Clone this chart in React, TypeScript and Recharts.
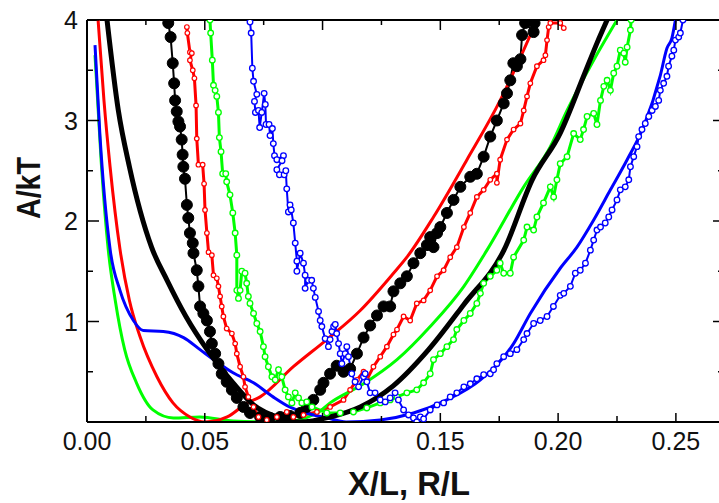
import { LineChart, Line, XAxis, YAxis, ReferenceLine } from "recharts";

type Pt = [number, number];

// smooth model curves
const blueCurve: Pt[] = [
  [0.0034, 3.75], [0.0055, 2.85], [0.0098, 1.72], [0.014, 1.31], [0.0197, 1.01], [0.0239, 0.91],
  [0.0324, 0.9], [0.041, 0.84], [0.048, 0.72], [0.055, 0.6], [0.062, 0.49], [0.0707, 0.39],
  [0.079, 0.25], [0.086, 0.15], [0.093, 0.09], [0.102, 0.04], [0.11, 0.0], [0.1245, 0.02],
  [0.1386, 0.09], [0.1528, 0.22], [0.167, 0.42], [0.1811, 0.78], [0.1882, 1.08], [0.2009, 1.53],
  [0.208, 1.74], [0.2151, 2.01], [0.2222, 2.31], [0.2293, 2.61], [0.2363, 2.94], [0.2434, 3.45],
  [0.2462, 3.72], [0.2483, 3.82], [0.2498, 4.0],
];
const redCurve: Pt[] = [
  [0.0047, 4.0], [0.0072, 3.2], [0.0098, 2.54], [0.014, 1.72], [0.018, 1.21], [0.0225, 0.85],
  [0.0297, 0.45], [0.0365, 0.19], [0.0437, 0.05], [0.05, 0.0], [0.0595, 0.05], [0.068, 0.19],
  [0.0735, 0.25], [0.0876, 0.55], [0.1018, 0.82], [0.116, 1.11], [0.1301, 1.48], [0.1358, 1.64],
  [0.1471, 2.04], [0.1613, 2.61], [0.1754, 3.2], [0.1825, 3.55], [0.191, 4.0],
];
const greenCurve: Pt[] = [
  [0.0034, 3.65], [0.006, 2.6], [0.009, 1.72], [0.012, 1.21], [0.016, 0.72], [0.021, 0.39],
  [0.028, 0.12], [0.0367, 0.04], [0.048, 0.05], [0.062, 0.01], [0.083, 0.0], [0.0977, 0.09],
  [0.1032, 0.19], [0.1174, 0.38], [0.1316, 0.62], [0.1457, 0.95], [0.16, 1.35], [0.1698, 1.71],
  [0.1854, 2.34], [0.1967, 2.74], [0.2038, 3.1], [0.2151, 3.6], [0.225, 4.0],
];
const blackCurve: Pt[] = [
  [0.0085, 4.0], [0.0133, 3.1], [0.018, 2.54], [0.0274, 1.74], [0.034, 1.41], [0.042, 1.05],
  [0.051, 0.72], [0.062, 0.39], [0.0707, 0.17], [0.082, 0.04], [0.0905, 0.0], [0.1032, 0.05],
  [0.116, 0.15], [0.13, 0.36], [0.145, 0.72], [0.16, 1.17], [0.177, 1.71], [0.189, 2.41],
  [0.201, 2.88], [0.2108, 3.44], [0.2165, 3.77], [0.2208, 4.0],
];

// simulation data with symbols
const blackDots: Pt[] = [
  [0.0345, 3.97], [0.0355, 3.83], [0.0364, 3.57], [0.037, 3.37], [0.0374, 3.2], [0.0381, 3.09],
  [0.0388, 2.99], [0.0395, 2.94], [0.0402, 2.81], [0.0406, 2.66], [0.0409, 2.54], [0.0416, 2.42],
  [0.0424, 2.16], [0.043, 2.03], [0.0437, 1.88], [0.0449, 1.78], [0.0452, 1.68], [0.0466, 1.51],
  [0.0473, 1.35], [0.048, 1.15], [0.0494, 1.08], [0.0509, 1.01], [0.0522, 0.9], [0.053, 0.78],
  [0.0544, 0.68], [0.0558, 0.58], [0.0572, 0.48], [0.0593, 0.4], [0.0615, 0.32], [0.0636, 0.24],
  [0.0664, 0.15], [0.0692, 0.09], [0.0735, 0.05], [0.0777, 0.04], [0.082, 0.05], [0.0862, 0.06],
  [0.0905, 0.09], [0.0933, 0.15], [0.0961, 0.22], [0.099, 0.32], [0.1004, 0.39], [0.1032, 0.48],
  [0.106, 0.56], [0.1089, 0.5], [0.1117, 0.53], [0.1146, 0.68], [0.1174, 0.84], [0.1202, 0.96],
  [0.1231, 1.06], [0.1259, 1.15], [0.1287, 1.15], [0.1301, 1.3], [0.133, 1.38], [0.1358, 1.45],
  [0.1386, 1.58], [0.1415, 1.68], [0.1443, 1.76], [0.1457, 1.84], [0.1471, 1.74], [0.1486, 1.88],
  [0.15, 1.94], [0.1528, 2.08], [0.1556, 2.21], [0.1585, 2.34], [0.1627, 2.44], [0.1655, 2.47],
  [0.1684, 2.64], [0.1712, 2.84], [0.174, 3.0], [0.1769, 3.17], [0.1783, 3.27], [0.1797, 3.4],
  [0.181, 3.57], [0.1825, 3.54], [0.184, 3.61], [0.1847, 3.85], [0.186, 3.97], [0.1896, 3.88],
  [0.19, 3.97],
];
const redDots: Pt[] = [
  [0.0424, 3.93], [0.0426, 3.87], [0.0437, 3.68], [0.0445, 3.67], [0.0437, 3.6], [0.0449, 3.5],
  [0.0456, 3.42], [0.0463, 3.15], [0.0466, 2.82], [0.0473, 2.56], [0.0491, 2.56], [0.0497, 2.37],
  [0.0501, 2.11], [0.0509, 1.88], [0.0516, 1.69], [0.053, 1.66], [0.0537, 1.46], [0.0551, 1.43],
  [0.0558, 1.35], [0.0565, 1.25], [0.0572, 1.15], [0.0579, 1.05], [0.0593, 0.93], [0.0615, 0.88],
  [0.0629, 0.78], [0.0636, 0.68], [0.065, 0.55], [0.0664, 0.45], [0.0671, 0.35], [0.0685, 0.25],
  [0.0707, 0.15], [0.0728, 0.05], [0.0763, 0.02], [0.0806, 0.05], [0.0848, 0.1], [0.0876, 0.05],
  [0.0919, 0.07], [0.0976, 0.1], [0.1032, 0.15], [0.1089, 0.22], [0.1117, 0.32], [0.1146, 0.42],
  [0.1174, 0.5], [0.1188, 0.42], [0.1216, 0.55], [0.1245, 0.65], [0.1273, 0.75], [0.1301, 0.87],
  [0.1316, 0.92], [0.1344, 1.05], [0.1372, 1.01], [0.14, 1.18], [0.1429, 1.21], [0.1457, 1.31],
  [0.1486, 1.45], [0.1514, 1.51], [0.1542, 1.64], [0.157, 1.74], [0.16, 1.94], [0.1627, 2.08],
  [0.1655, 2.24], [0.1684, 2.31], [0.1712, 2.41], [0.174, 2.47], [0.174, 2.38], [0.1754, 2.61],
  [0.1783, 2.81], [0.1811, 2.91], [0.184, 2.97], [0.1854, 3.1], [0.1868, 3.24], [0.1882, 3.37],
  [0.191, 3.54], [0.1938, 3.6], [0.1946, 3.65], [0.1953, 3.8], [0.196, 3.93], [0.1967, 3.97],
  [0.2009, 3.97], [0.2024, 3.92],
];
const greenDots: Pt[] = [
  [0.0522, 4.0], [0.0525, 3.87], [0.0532, 3.6], [0.0537, 3.35], [0.0544, 3.3], [0.0551, 3.24],
  [0.0558, 3.08], [0.0562, 2.83], [0.0569, 2.69], [0.0576, 2.47], [0.0589, 2.47], [0.0593, 2.39],
  [0.0607, 2.26], [0.0619, 2.08], [0.0629, 1.88], [0.0636, 1.66], [0.0636, 1.31], [0.0643, 1.23],
  [0.065, 1.31], [0.0657, 1.5], [0.0671, 1.48], [0.0678, 1.38], [0.0685, 1.25], [0.0692, 1.18],
  [0.0707, 1.08], [0.0721, 0.98], [0.0735, 0.9], [0.0749, 0.75], [0.0756, 0.65], [0.077, 0.55],
  [0.0785, 0.45], [0.0799, 0.42], [0.0813, 0.52], [0.0827, 0.45], [0.0841, 0.32], [0.0855, 0.25],
  [0.087, 0.19], [0.0884, 0.29], [0.0898, 0.24], [0.0912, 0.19], [0.0933, 0.2], [0.0955, 0.15],
  [0.1018, 0.09], [0.1075, 0.09], [0.1131, 0.1], [0.1188, 0.14], [0.1245, 0.19], [0.1287, 0.22],
  [0.1316, 0.25], [0.1358, 0.29], [0.14, 0.32], [0.1429, 0.39], [0.1457, 0.48], [0.1471, 0.62],
  [0.15, 0.68], [0.1528, 0.75], [0.1556, 0.82], [0.157, 0.92], [0.16, 1.01], [0.1627, 1.08],
  [0.1655, 1.18], [0.167, 1.28], [0.1684, 1.38], [0.1712, 1.45], [0.174, 1.51], [0.1754, 1.58],
  [0.1769, 1.48], [0.1797, 1.48], [0.1811, 1.64], [0.1854, 1.81], [0.1868, 1.94], [0.1896, 1.91],
  [0.191, 2.04], [0.1938, 2.18], [0.1967, 2.34], [0.1981, 2.24], [0.1995, 2.41], [0.2009, 2.57],
  [0.2038, 2.64], [0.2066, 2.87], [0.2094, 2.81], [0.2108, 2.91], [0.2123, 3.04], [0.2151, 3.07],
  [0.2165, 2.96], [0.218, 3.2], [0.2194, 3.34], [0.2208, 3.4], [0.2222, 3.3], [0.2236, 3.47],
  [0.225, 3.54], [0.2264, 3.7], [0.2279, 3.67], [0.2285, 3.58], [0.2293, 3.73], [0.2307, 3.9],
  [0.231, 4.0],
];
const blueDots: Pt[] = [
  [0.0692, 3.98], [0.0697, 3.87], [0.0702, 3.52], [0.0707, 3.39], [0.0721, 3.26], [0.0711, 3.19],
  [0.0715, 3.08], [0.0728, 3.1], [0.0733, 2.93], [0.0742, 3.08], [0.0752, 3.27], [0.0757, 3.16],
  [0.076, 2.96], [0.0773, 2.96], [0.0777, 2.85], [0.0787, 2.92], [0.0791, 2.77], [0.0796, 2.65],
  [0.0806, 2.61], [0.0834, 2.65], [0.0828, 2.6], [0.0806, 2.51], [0.0817, 2.46], [0.0837, 2.46],
  [0.0844, 2.5], [0.0848, 2.32], [0.0855, 2.09], [0.0862, 2.16], [0.0867, 2.11], [0.0876, 1.98],
  [0.0884, 1.78], [0.0891, 1.6], [0.0891, 1.5], [0.0905, 1.68], [0.0919, 1.58], [0.0926, 1.46],
  [0.0926, 1.33], [0.094, 1.41], [0.0954, 1.41], [0.0961, 1.33], [0.0969, 1.24], [0.0983, 1.1],
  [0.099, 1.01], [0.0997, 0.95], [0.1011, 0.83], [0.1025, 0.75], [0.1032, 0.82], [0.104, 0.9],
  [0.1047, 0.95], [0.1054, 0.97], [0.106, 0.88], [0.1068, 0.78], [0.1075, 0.68], [0.1082, 0.58],
  [0.1096, 0.68], [0.1103, 0.75], [0.111, 0.65], [0.1124, 0.48], [0.1138, 0.4], [0.1153, 0.35],
  [0.1174, 0.45], [0.1181, 0.48], [0.1188, 0.4], [0.1202, 0.29], [0.1223, 0.29], [0.1245, 0.22],
  [0.1266, 0.2], [0.1287, 0.24], [0.1308, 0.29], [0.1322, 0.22], [0.1344, 0.12], [0.1365, 0.07],
  [0.1386, 0.04], [0.14, 0.0], [0.1415, 0.05], [0.1429, 0.03], [0.1457, 0.12], [0.1486, 0.17],
  [0.1514, 0.19], [0.1542, 0.25], [0.157, 0.29], [0.16, 0.35], [0.1627, 0.38], [0.1655, 0.43],
  [0.1684, 0.47], [0.1712, 0.48], [0.1726, 0.52], [0.174, 0.58], [0.1769, 0.65], [0.1797, 0.68],
  [0.1825, 0.72], [0.1854, 0.82], [0.1868, 0.88], [0.1896, 0.98], [0.1924, 1.01], [0.1953, 1.05],
  [0.198, 1.15], [0.2009, 1.26], [0.2024, 1.28], [0.2052, 1.35], [0.2073, 1.48], [0.2094, 1.51],
  [0.2116, 1.58], [0.2137, 1.71], [0.2151, 1.81], [0.2165, 1.91], [0.218, 1.94], [0.22, 1.98],
  [0.2215, 2.04], [0.2229, 2.11], [0.225, 2.21], [0.2264, 2.31], [0.2285, 2.34], [0.23, 2.41],
  [0.2307, 2.54], [0.2321, 2.64], [0.2335, 2.74], [0.2342, 2.84], [0.2356, 2.91], [0.237, 2.97],
  [0.2385, 3.04], [0.2399, 3.1], [0.2413, 3.14], [0.2427, 3.2], [0.2434, 3.3], [0.2448, 3.37],
  [0.2462, 3.44], [0.2469, 3.54], [0.2483, 3.64], [0.2491, 3.7], [0.2498, 3.8], [0.2512, 3.83],
  [0.2519, 3.87], [0.253, 4.0],
];

const xTicks = [0, 0.025, 0.05, 0.075, 0.1, 0.125, 0.15, 0.175, 0.2, 0.225, 0.25];
const yTicks = [0, 0.5, 1, 1.5, 2, 2.5, 3, 3.5, 4];

const W = 730;
const H = 503;
const MARGIN = { top: 20, right: 7, left: 27, bottom: 41 };
const PLOT_TOP = MARGIN.top;
const PLOT_RIGHT = W - MARGIN.right;
const FONT = "'Liberation Sans', Arial, sans-serif";

const rows = (pts: Pt[]) => pts.map(([x, y]) => ({ x, y }));
const isMajor = (v: number, step: number) => Math.abs(v / step - Math.round(v / step)) < 1e-6;

function XTick(props: any) {
  const { x, y, payload } = props;
  const v = payload.value as number;
  const major = isMajor(v, 0.05);
  return (
    <g>
      <line x1={x} x2={x} y1={y} y2={y - (major ? 9 : 6)} stroke="#000" strokeWidth={1.5} />
      <line x1={x} x2={x} y1={PLOT_TOP} y2={PLOT_TOP + (major ? 10 : 5)} stroke="#000" strokeWidth={1.5} />
      {major && (
        <text x={x} y={y + 28} textAnchor="middle" fontSize={25} fontFamily={FONT} fill="#111">
          {v.toFixed(2)}
        </text>
      )}
    </g>
  );
}

function YTick(props: any) {
  const { x, y, payload } = props;
  const v = payload.value as number;
  const major = isMajor(v, 1);
  return (
    <g>
      <line x1={x} x2={x + (major ? 12 : 6)} y1={y} y2={y} stroke="#000" strokeWidth={1.5} />
      <line x1={PLOT_RIGHT} x2={PLOT_RIGHT - (major ? 10 : 5)} y1={y} y2={y} stroke="#000" strokeWidth={1.5} />
      {major && v > 0 && (
        <text x={x - 9} y={y + 9} textAnchor="end" fontSize={25} fontFamily={FONT} fill="#111">
          {v}
        </text>
      )}
    </g>
  );
}

function XTitle({ viewBox }: any) {
  return (
    <text x={viewBox.x + viewBox.width / 2 + 4} y={viewBox.y + 73} textAnchor="middle"
      fontSize={34} fontWeight="bold" fontFamily={FONT} fill="#111" textLength={122} lengthAdjust="spacingAndGlyphs">
      X/L, R/L
    </text>
  );
}

function YTitle({ viewBox }: any) {
  const cx = viewBox.x + 13;
  const cy = 188;
  return (
    <text x={cx} y={cy} transform={`rotate(-90 ${cx} ${cy})`} textAnchor="middle"
      fontSize={34} fontWeight="bold" fontFamily={FONT} fill="#111" textLength={62} lengthAdjust="spacingAndGlyphs">
      A/kT
    </text>
  );
}

const symbolSeries = [
  { key: "blackDots", pts: blackDots, color: "#000000", width: 2, dot: { r: 5.5, fill: "#000000", stroke: "#000000", strokeWidth: 1 } },
  { key: "redDots", pts: redDots, color: "#ff0000", width: 3, dot: { r: 2.3, fill: "#ffffff", stroke: "#ff0000", strokeWidth: 1.2 } },
  { key: "greenDots", pts: greenDots, color: "#00ff00", width: 3, dot: { r: 2.8, fill: "#ffffff", stroke: "#00ff00", strokeWidth: 1.3 } },
  { key: "blueDots", pts: blueDots, color: "#0000ff", width: 2, dot: { r: 2.8, fill: "#ffffff", stroke: "#0000ff", strokeWidth: 1.3 } },
];

const curveSeries = [
  { key: "greenCurve", pts: greenCurve, color: "#00ff00", width: 3 },
  { key: "redCurve", pts: redCurve, color: "#ff0000", width: 3 },
  { key: "blueCurve", pts: blueCurve, color: "#0000ff", width: 3 },
  { key: "blackCurve", pts: blackCurve, color: "#000000", width: 5 },
];

export default function App() {
  return (
    <div style={{ position: "absolute", left: 0, top: 0, width: 719, height: H, overflow: "hidden", background: "#fff" }}>
      <LineChart width={W} height={H} margin={MARGIN}>
        <XAxis
          dataKey="x"
          type="number"
          domain={[0, 0.27]}
          allowDataOverflow
          ticks={xTicks}
          interval={0}
          tickSize={0}
          tickMargin={0}
          tickLine={false}
          tick={<XTick />}
          axisLine={{ stroke: "#000", strokeWidth: 2 }}
          height={40}
          label={<XTitle />}
        />
        <YAxis
          dataKey="y"
          type="number"
          domain={[0, 4]}
          allowDataOverflow
          ticks={yTicks}
          interval={0}
          tickSize={0}
          tickMargin={0}
          tickLine={false}
          tick={<YTick />}
          axisLine={{ stroke: "#000", strokeWidth: 2 }}
          width={60}
          label={<YTitle />}
        />
        <ReferenceLine y={4} stroke="#000" strokeWidth={2} />
        {symbolSeries.map((s) => (
          <Line
            key={s.key}
            data={rows(s.pts)}
            dataKey="y"
            type="linear"
            stroke={s.color}
            strokeWidth={s.width}
            dot={s.dot}
            activeDot={false}
            isAnimationActive={false}
          />
        ))}
        {curveSeries.map((s) => (
          <Line
            key={s.key}
            data={rows(s.pts)}
            dataKey="y"
            type="monotone"
            stroke={s.color}
            strokeWidth={s.width}
            dot={false}
            activeDot={false}
            isAnimationActive={false}
          />
        ))}
      </LineChart>
    </div>
  );
}
